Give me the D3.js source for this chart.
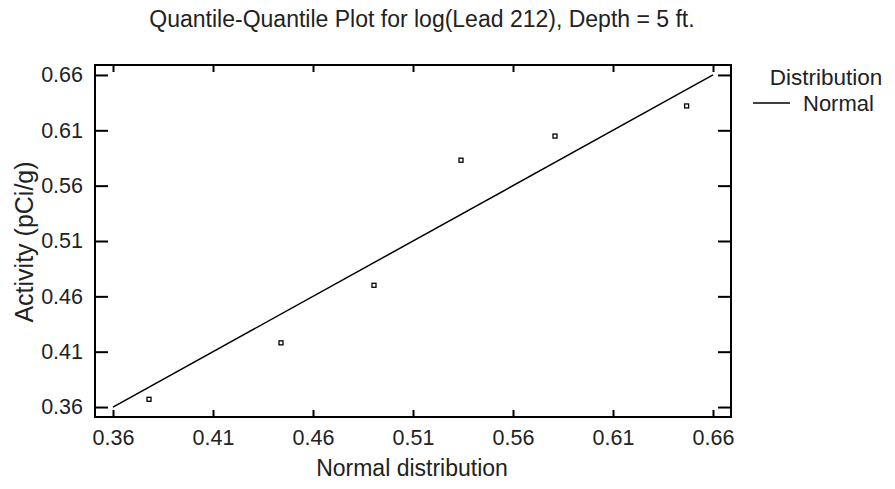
<!DOCTYPE html>
<html>
<head>
<meta charset="utf-8">
<script src="https://cdn.jsdelivr.net/npm/d3@7"></script>
<style>
  body { margin: 0; background: #fff; }
  svg { font-family: Arial, "Liberation Sans", sans-serif; }
</style>
</head>
<body>
<div id="chart"></div>
<script>
// Data
const normalQuantiles = [0.378, 0.444, 0.4905, 0.534, 0.581, 0.6468];
const activity = [0.367, 0.418, 0.470, 0.583, 0.6048, 0.632];
const refLine = [0.36, 0.66];
const xTicks = [0.36, 0.41, 0.46, 0.51, 0.56, 0.61, 0.66];
const yTicks = [0.36, 0.41, 0.46, 0.51, 0.56, 0.61, 0.66];

const width = 895;
const height = 489;
const margin = { top: 65, right: 164, bottom: 72, left: 95 };

const svg = d3.select("#chart")
  .append("svg")
  .attr("width", width)
  .attr("height", height);

// Scales
const x = d3.scaleLinear()
  .domain([0.351, 0.669])
  .range([margin.left, width - margin.right]);

const y = d3.scaleLinear()
  .domain([0.351, 0.669])
  .range([height - margin.bottom, margin.top]);

const fmt = d3.format(".2f");

// Title
svg.append("text")
  .attr("x", 422)
  .attr("y", 27)
  .attr("text-anchor", "middle")
  .attr("fill", "#222")
  .style("font-size", "23px")
  .text("Quantile-Quantile Plot for log(Lead 212), Depth = 5 ft.");

// Axes (ticks inward)
const gBottom = svg.append("g")
  .attr("transform", `translate(0,${height - margin.bottom})`)
  .call(d3.axisBottom(x).tickValues(xTicks).tickSize(-7).tickPadding(13).tickFormat(fmt));

const gTop = svg.append("g")
  .attr("transform", `translate(0,${margin.top})`)
  .call(d3.axisTop(x).tickValues(xTicks).tickSize(-7).tickFormat(""));

const gLeft = svg.append("g")
  .attr("transform", `translate(${margin.left},0)`)
  .call(d3.axisLeft(y).tickValues(yTicks).tickSize(-13).tickPadding(12).tickFormat(fmt));

const gRight = svg.append("g")
  .attr("transform", `translate(${width - margin.right},0)`)
  .call(d3.axisRight(y).tickValues(yTicks).tickSize(-13).tickFormat(""));

[gBottom, gTop, gLeft, gRight].forEach(g => {
  g.select(".domain").remove();
  g.selectAll(".tick line").attr("stroke", "#000").attr("stroke-width", 2);
  g.selectAll(".tick text")
    .attr("fill", "#222")
    .style("font-size", "21.5px")
    .style("font-family", "Arial, 'Liberation Sans', sans-serif");
});

// Frame
svg.append("rect")
  .attr("x", margin.left)
  .attr("y", margin.top)
  .attr("width", width - margin.right - margin.left)
  .attr("height", height - margin.bottom - margin.top)
  .attr("fill", "none")
  .attr("stroke", "#000")
  .attr("stroke-width", 2);

// Reference line
svg.append("line")
  .attr("x1", x(refLine[0]))
  .attr("y1", y(refLine[0]))
  .attr("x2", x(refLine[1]))
  .attr("y2", y(refLine[1]))
  .attr("stroke", "#000")
  .attr("stroke-width", 1.5);

// Points
svg.selectAll("rect.pt")
  .data(normalQuantiles)
  .join("rect")
  .attr("class", "pt")
  .attr("x", d => x(d) - 2)
  .attr("y", (d, i) => y(activity[i]) - 2)
  .attr("width", 4)
  .attr("height", 4)
  .attr("fill", "none")
  .attr("stroke", "#000")
  .attr("stroke-width", 1.3);

// X-axis label
svg.append("text")
  .attr("x", 412)
  .attr("y", 476)
  .attr("text-anchor", "middle")
  .style("font-size", "23px")
  .attr("fill", "#222")
  .text("Normal distribution");

// Y-axis label
svg.append("text")
  .attr("transform", `translate(33,242) rotate(-90)`)
  .attr("text-anchor", "middle")
  .style("font-size", "25px")
  .attr("fill", "#222")
  .text("Activity (pCi/g)");

// Legend
svg.append("text")
  .attr("x", 826)
  .attr("y", 85)
  .attr("text-anchor", "middle")
  .style("font-size", "22.5px")
  .attr("fill", "#222")
  .text("Distribution");

svg.append("line")
  .attr("x1", 753)
  .attr("x2", 790)
  .attr("y1", 103)
  .attr("y2", 103)
  .attr("stroke", "#000")
  .attr("stroke-width", 1.5);

svg.append("text")
  .attr("x", 803)
  .attr("y", 111)
  .style("font-size", "22px")
  .attr("fill", "#222")
  .text("Normal");
</script>
</body>
</html>
